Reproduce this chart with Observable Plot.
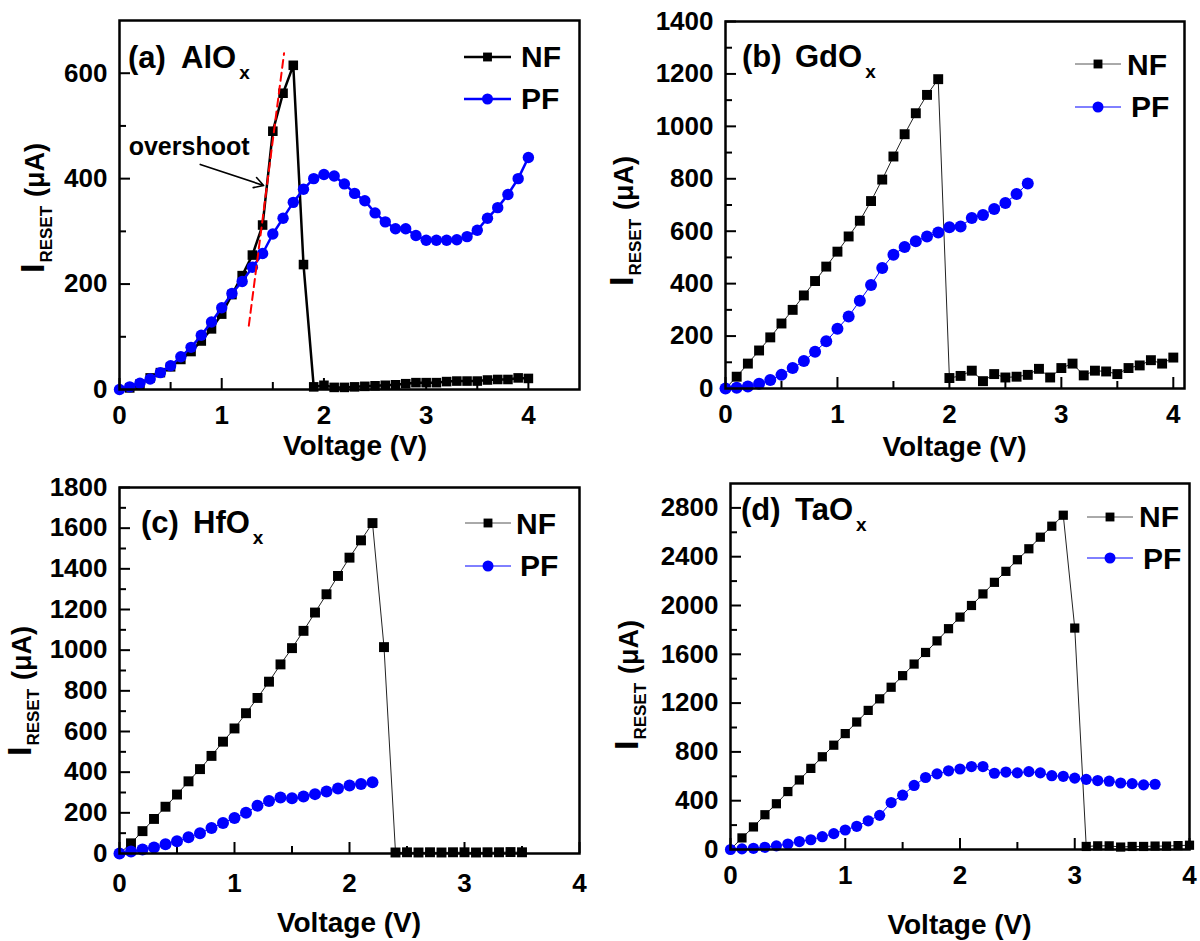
<!DOCTYPE html>
<html>
<head>
<meta charset="utf-8">
<script src="https://cdn.jsdelivr.net/npm/d3@7"></script>
<script src="https://cdn.jsdelivr.net/npm/@observablehq/plot@0.6"></script>
<style>
  body { margin: 0; background: #fff; }
  #wrap { position: relative; width: 1200px; height: 941px; background: #fff; overflow: hidden; }
  #wrap svg { position: absolute; }
</style>
</head>
<body>
<div id="wrap"></div>
<script>
// ---------- data ----------
const voltage = [0, 0.1, 0.2, 0.3, 0.4, 0.5, 0.6, 0.7, 0.8, 0.9,
                 1.0, 1.1, 1.2, 1.3, 1.4, 1.5, 1.6, 1.7, 1.8, 1.9,
                 2.0, 2.1, 2.2, 2.3, 2.4, 2.5, 2.6, 2.7, 2.8, 2.9,
                 3.0, 3.1, 3.2, 3.3, 3.4, 3.5, 3.6, 3.7, 3.8, 3.9, 4.0];

const seriesNames = ["NF", "PF"];
const panelTags = ["(a)", "(b)", "(c)", "(d)"];
const materials = ["AlO", "GdO", "HfO", "TaO"];
const xLabel = "Voltage (V)";

// (a) AlOx
const alNF = [0, 3, 10, 22, 32, 43, 57, 72, 92, 115, 143, 180, 216, 255, 312, 490, 562, 615, 237, 5,
              8, 4, 4, 5, 6, 7, 8, 9, 11, 13, 13, 13, 15, 16, 16, 16, 18, 19, 19, 22, 21];
const alPF = [0, 5, 12, 20, 32, 45, 62, 80, 103, 128, 155, 182, 205, 232, 258, 295, 325, 355, 380, 400,
              408, 405, 390, 372, 358, 335, 318, 305, 305, 292, 283, 283, 283, 284, 290, 302, 325, 345, 370, 400, 440];
// (b) GdOx
const gdNF = [0, 45, 95, 145, 195, 248, 300, 355, 410, 465, 522, 580, 640, 715, 797, 885, 970, 1050, 1120, 1180,
              40, 48, 68, 28, 55, 42, 45, 52, 75, 42, 78, 95, 50, 68, 65, 55, 78, 88, 108, 95, 118];
const gdPF = [0, 3, 8, 18, 32, 52, 78, 105, 140, 180, 228, 275, 335, 395, 460, 510, 540, 562, 580, 595,
              615, 618, 650, 662, 685, 708, 742, 782];
// (c) HfOx
const hfNF = [0, 50, 110, 170, 230, 290, 355, 415, 480, 550, 615, 690, 765, 845, 930, 1010, 1095, 1185, 1275, 1365,
              1455, 1540, 1625, 1015, 5, 6, 5, 6, 5, 6, 6, 5, 6, 6, 7, 6];
const hfPF = [0, 10, 20, 30, 45, 60, 80, 100, 125, 150, 175, 200, 235, 258, 275, 272, 280, 292, 305, 320,
              335, 342, 350];
// (d) TaOx
const taNF = [0, 95, 185, 285, 375, 475, 570, 665, 760, 855, 950, 1045, 1140, 1235, 1330, 1425, 1520, 1615, 1710, 1810,
              1905, 2000, 2095, 2190, 2280, 2375, 2465, 2560, 2650, 2740, 1815, 25, 30, 30, 20, 25, 25, 28, 28, 32, 35];
const taPF = [0, 5, 10, 18, 30, 45, 65, 80, 105, 130, 160, 190, 235, 280, 385, 445, 525, 590, 620, 645,
              660, 680, 680, 625, 635, 628, 638, 628, 605, 600, 585, 575, 565, 560, 545, 540, 530, 535];

// tick values
const xMajorTicks = [0, 1, 2, 3, 4];
const xMinorTicks = [0.5, 1.5, 2.5, 3.5];
const yTicksA = [0, 200, 400, 600];          const yMinorA = [100, 300, 500];
const yTicksB = [0, 200, 400, 600, 800, 1000, 1200, 1400];
const yMinorB = [100, 300, 500, 700, 900, 1100, 1300];
const yTicksC = [0, 200, 400, 600, 800, 1000, 1200, 1400, 1600, 1800];
const yMinorC = [100, 300, 500, 700, 900, 1100, 1300, 1500, 1700];
const yTicksD = [0, 400, 800, 1200, 1600, 2000, 2400, 2800];
const yMinorD = [200, 600, 1000, 1400, 1800, 2200, 2600];

// overshoot annotation (panel a), in data units
const overshootFit = [{v: 1.265, i: 121}, {v: 1.61, i: 638}];
const overshootArrow = [{v1: 0.79, i1: 427, v2: 1.41, i2: 387}];
const overshootText = [{v: 0.09, i: 444, label: "overshoot"}];

// ---------- drawing ----------
const FONT = "'Liberation Sans', Arial, Helvetica, sans-serif";
const BLUE = "#0000ff";
const wrap = document.getElementById("wrap");

function toRows(values) { return values.map((y, k) => ({v: voltage[k], i: y})); }

function panel(cfg) {
  const nf = toRows(cfg.nf), pf = toRows(cfg.pf);
  const innerH = cfg.h - cfg.mt - cfg.mb;
  const innerW = 600 - cfg.ml - cfg.mr;
  const thick = cfg.thick;
  const marks = [
    Plot.axisX({ticks: xMajorTicks, tickSize: 0, tickPadding: cfg.xpad, label: null, tickFormat: d => String(d)}),
    Plot.axisY({ticks: cfg.yTicks, tickSize: 0, tickPadding: 12, label: null, tickFormat: d => String(d)}),
    Plot.tickX(xMajorTicks, {x: d => d, insetTop: innerH - 11, strokeWidth: 2, stroke: "black"}),
    Plot.tickX(xMinorTicks, {x: d => d, insetTop: innerH - 7, strokeWidth: 2, stroke: "black"}),
    Plot.tickY(cfg.yTicks, {y: d => d, insetRight: innerW - 11, strokeWidth: 2, stroke: "black"}),
    Plot.tickY(cfg.yMinor, {y: d => d, insetRight: innerW - 7, strokeWidth: 2, stroke: "black"}),
    Plot.line(nf, {x: "v", y: "i", stroke: thick ? "black" : "#222", strokeWidth: thick ? 2.5 : 1}),
    Plot.dot(nf.filter(d => d.v > 0), {x: "v", y: "i", symbol: "square", r: cfg.sq, fill: "black"}),
    Plot.line(pf, {x: "v", y: "i", stroke: BLUE, strokeWidth: thick ? 2.5 : 1}),
    Plot.dot(pf, {x: "v", y: "i", r: cfg.ci, fill: BLUE}),
  ];
  if (cfg.annotate) {
    marks.push(
      Plot.line(overshootFit, {x: "v", y: "i", stroke: "#ff0000", strokeWidth: 2, strokeDasharray: "8,5"}),
      Plot.arrow(overshootArrow, {x1: "v1", y1: "i1", x2: "v2", y2: "i2", stroke: "black", strokeWidth: 1.6, headLength: 10, bend: 0}),
      Plot.text(overshootText, {x: "v", y: "i", text: "label", textAnchor: "start", lineAnchor: "bottom", fontSize: 25, fontWeight: "bold", fill: "black"})
    );
  }
  marks.push(Plot.frame({stroke: "black", strokeWidth: 2.5}));

  const svg = Plot.plot({
    width: 600, height: cfg.h,
    marginLeft: cfg.ml, marginRight: cfg.mr, marginTop: cfg.mt, marginBottom: cfg.mb,
    x: {domain: cfg.xd},
    y: {domain: cfg.yd},
    style: {fontFamily: FONT, fontSize: "26px", fontWeight: "bold", color: "black", background: "transparent", overflow: "visible"},
    marks
  });
  svg.style.left = cfg.left + "px";
  svg.style.top = cfg.top + "px";
  wrap.appendChild(svg);

  // text decorations (with sub-scripts) and legend
  const s = d3.select(svg);
  const g = s.append("g").attr("font-family", FONT).attr("font-weight", "bold")
    .attr("fill", "black").attr("text-anchor", "start");

  // panel label e.g. "(a) AlOx"
  const t = g.append("text").attr("y", cfg.lab.y).attr("font-size", 31);
  t.append("tspan").attr("x", cfg.lab.x).text(cfg.tag);
  t.append("tspan").attr("x", cfg.lab.x2).text(cfg.mat);
  t.append("tspan").attr("dx", 3).attr("dy", 11).attr("font-size", 19).text("x");

  // y label I_RESET (μA)
  const yl = g.append("text")
    .attr("transform", `translate(${cfg.yl.x},${cfg.yl.y}) rotate(-90)`)
    .attr("text-anchor", "middle");
  yl.append("tspan").attr("font-size", 34).text("I");
  yl.append("tspan").attr("font-size", 17).attr("dy", 8).attr("dx", 1).text("RESET");
  yl.append("tspan").attr("font-size", 27).attr("dy", -8).attr("dx", 9).text("(μA)");

  // x label
  g.append("text").attr("x", cfg.ml + innerW / 2 + cfg.xlDx).attr("y", cfg.xlY)
    .attr("text-anchor", "middle").attr("font-size", 28).text(xLabel);

  // legend
  const L = cfg.leg;
  const lw = thick ? 2.5 : 1;
  // NF
  g.append("line").attr("x1", L.x1).attr("x2", L.x2).attr("y1", L.y1).attr("y2", L.y1)
    .attr("stroke", thick ? "black" : "#555").attr("stroke-width", lw);
  const sqs = Math.min(cfg.sq, 5) * Math.sqrt(Math.PI);
  g.append("rect").attr("x", (L.x1 + L.x2) / 2 - sqs / 2).attr("y", L.y1 - sqs / 2)
    .attr("width", sqs).attr("height", sqs).attr("fill", "black");
  g.append("text").attr("x", L.tx1).attr("y", L.b1).attr("font-size", 30).text(seriesNames[0]);
  // PF
  g.append("line").attr("x1", L.x1).attr("x2", L.x2).attr("y1", L.y2).attr("y2", L.y2)
    .attr("stroke", BLUE).attr("stroke-width", lw);
  g.append("circle").attr("cx", (L.x1 + L.x2) / 2).attr("cy", L.y2).attr("r", Math.min(cfg.ci, 5.5)).attr("fill", BLUE);
  g.append("text").attr("x", L.tx2).attr("y", L.b2).attr("font-size", 30).text(seriesNames[1]);
}

panel({
  left: 0, top: 0, h: 470, ml: 119, mr: 21, mt: 20, mb: 81,
  xd: [0, 4.5], yd: [0, 700], yTicks: yTicksA, yMinor: yMinorA, xpad: 16,
  nf: alNF, pf: alPF, thick: true, sq: 5.4, ci: 5.7, annotate: true,
  tag: panelTags[0], mat: materials[0],
  lab: {x: 128, x2: 181, y: 68},
  yl: {x: 44, y: 208}, xlY: 455, xlDx: 6,
  leg: {x1: 464, x2: 511, y1: 57, y2: 99, tx1: 521, b1: 67, tx2: 521, b2: 109}
});
panel({
  left: 600, top: 0, h: 470, ml: 125, mr: 16, mt: 21, mb: 82,
  xd: [0, 4.1], yd: [0, 1400], yTicks: yTicksB, yMinor: yMinorB, xpad: 16,
  nf: gdNF, pf: gdPF, thick: false, sq: 5.6, ci: 6, annotate: false,
  tag: panelTags[1], mat: materials[1],
  lab: {x: 142, x2: 195, y: 67},
  yl: {x: 33, y: 221}, xlY: 456, xlDx: 0,
  leg: {x1: 475, x2: 521, y1: 64, y2: 107, tx1: 527, b1: 75, tx2: 531, b2: 117}
});
panel({
  left: 0, top: 470, h: 471, ml: 119, mr: 21, mt: 17, mb: 88,
  xd: [0, 4], yd: [0, 1800], yTicks: yTicksC, yMinor: yMinorC, xpad: 20,
  nf: hfNF, pf: hfPF, thick: false, sq: 5.6, ci: 6, annotate: false,
  tag: panelTags[2], mat: materials[2],
  lab: {x: 141, x2: 193, y: 63},
  yl: {x: 31, y: 221}, xlY: 462, xlDx: 0,
  leg: {x1: 465, x2: 511, y1: 53, y2: 96, tx1: 516, b1: 64, tx2: 520, b2: 106}
});
panel({
  left: 600, top: 470, h: 471, ml: 130, mr: 11, mt: 13, mb: 92,
  xd: [0, 4], yd: [0, 3000], yTicks: yTicksD, yMinor: yMinorD, xpad: 16,
  nf: taNF, pf: taPF, thick: false, sq: 5.2, ci: 5.6, annotate: false,
  tag: panelTags[3], mat: materials[3],
  lab: {x: 141, x2: 195, y: 50},
  yl: {x: 38, y: 215}, xlY: 464, xlDx: 0,
  leg: {x1: 487, x2: 533, y1: 47, y2: 88, tx1: 539, b1: 57, tx2: 543, b2: 99}
});
</script>
</body>
</html>
